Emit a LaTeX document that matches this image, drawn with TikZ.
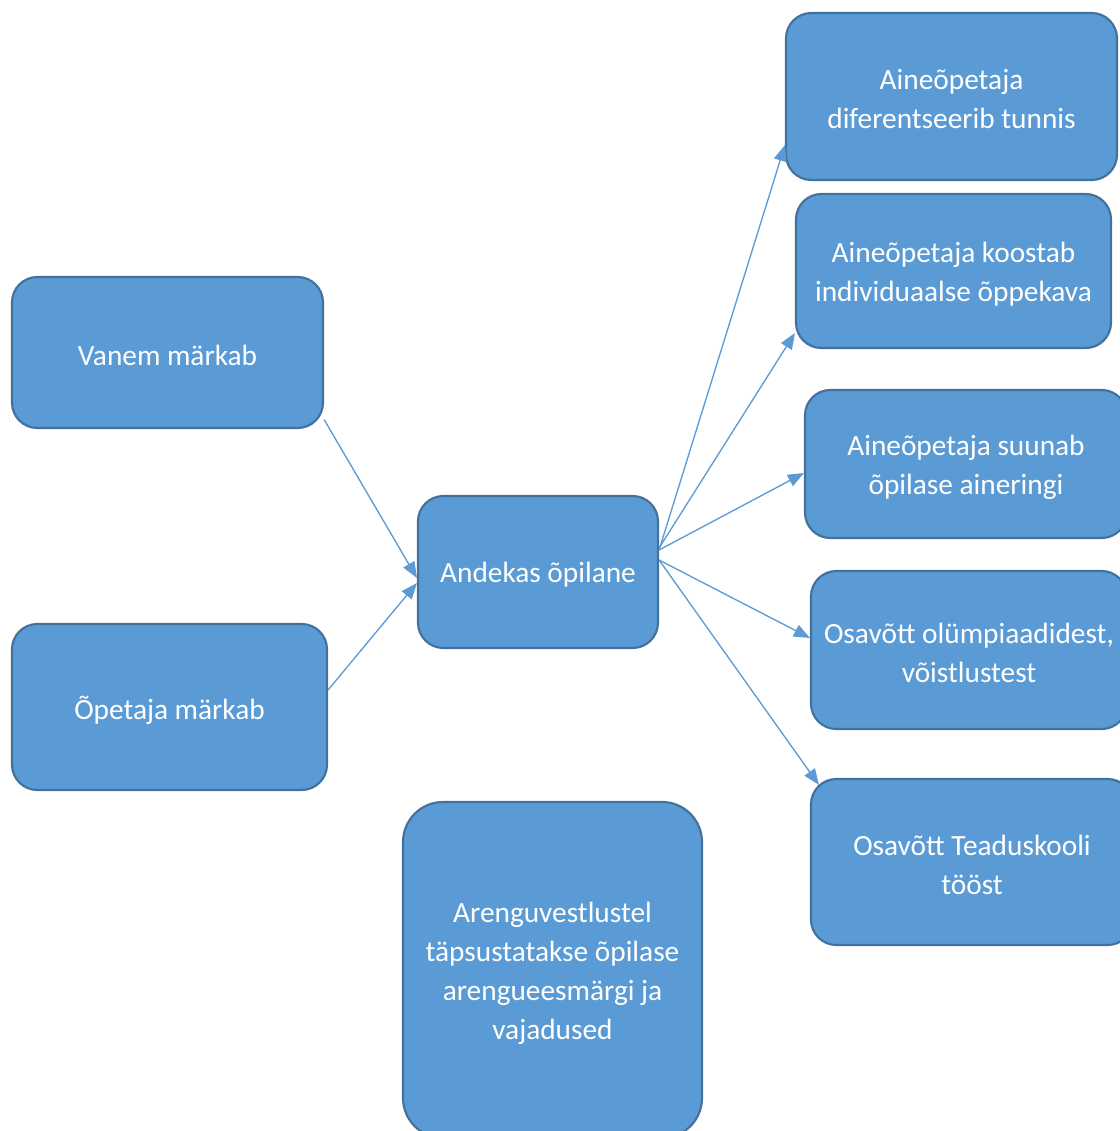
\documentclass[tikz,border=0pt]{standalone}
\usepackage{fontspec}
\setmainfont{Carlito}
\usetikzlibrary{arrows.meta,calc}
\definecolor{boxfill}{HTML}{5B9BD5}
\definecolor{boxline}{HTML}{41719C}
\begin{document}
\begin{tikzpicture}[x=0.75pt,y=-0.75pt,
  box/.style={draw=boxline, fill=boxfill, line width=1.6pt, rounded corners=19pt, inner sep=0pt},
  boxtext/.style={text=white, align=center, inner sep=0pt, yshift=-2.2pt,
    font=\fontsize{22}{29.25}\selectfont},
  txt/.style={label={[boxtext]center:{#1}}},
  wh/.style 2 args={minimum width=0.75pt*#1, minimum height=0.75pt*#2},
  conn/.style={draw=boxfill, line width=1pt, -{Triangle[length=12pt,width=9.5pt]}}]
\path[use as bounding box] (0,0) rectangle (1120,1131);
\clip (0,0) rectangle (1120,1131);

\node[box, wh={331}{167}, txt={Aineõpetaja\\diferentseerib tunnis}] (b1) at (951.5,96.5) {};
\node[box, wh={315}{154}, txt={Aineõpetaja koostab\\individuaalse õppekava}] (b2) at (953.5,271) {};
\node[box, wh={322}{148}, txt={Aineõpetaja suunab\\õpilase aineringi}] (b3) at (966,464) {};
\node[box, wh={316}{158}, txt={Osavõtt olümpiaadidest,\\võistlustest}] (b4) at (969,650) {};
\node[box, wh={322}{166}, txt={Osavõtt Teaduskooli\\tööst}] (b5) at (972,862) {};
\node[box, wh={311}{151}, txt={Vanem märkab}] (vanem) at (167.5,352.5) {};
\node[box, wh={315}{166}, txt={Õpetaja märkab}] (opetaja) at (169.5,707) {};
\node[box, wh={240}{152}, txt={Andekas õpilane}] (andekas) at (538,572) {};
\node[box, rounded corners=30pt, wh={299}{336}, txt={Arenguvestlustel\\täpsustatakse õpilase\\arengueesmärgi ja\\vajadused}] (areng) at (552.5,970) {};

\draw[conn] ($(vanem.east)+(0,67)$) -- ($(andekas.west)+(0,6)$);
\draw[conn] ($(opetaja.east)+(0,-17)$) -- ($(andekas.west)+(0,11)$);
\draw[conn] ($(andekas.east)+(0,-22)$) -- ($(b1.west)+(0,48.5)$);
\draw[conn] ($(andekas.east)+(0,-24)$) -- ($(b2.west)+(0,62)$);
\draw[conn] ($(andekas.east)+(0,-22)$) -- ($(b3.west)+(0,9)$);
\draw[conn] ($(andekas.east)+(0,-12)$) -- ($(b4.west)+(0,-12)$);
\draw[conn] ($(andekas.east)+(0,-12)$) -- ($(b5.north west)+(9,7)$);
\end{tikzpicture}
\end{document}
